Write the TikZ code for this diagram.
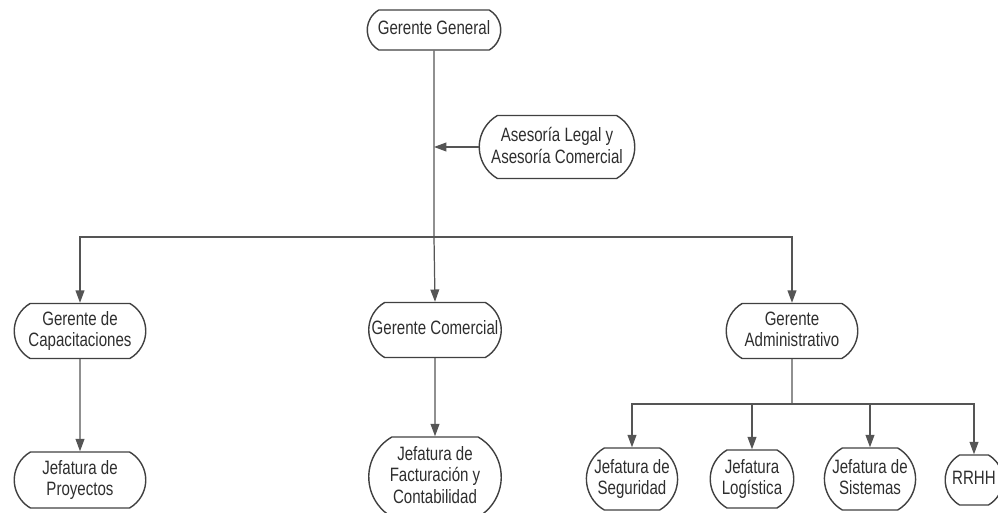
\documentclass[tikz,border=0pt]{standalone}
\usepackage{fontspec}
\setmainfont[FakeStretch=0.78]{Liberation Sans}
\usetikzlibrary{shapes.misc,arrows.meta}
\definecolor{txt}{HTML}{2E2E2E}
\definecolor{ln}{HTML}{555555}
\definecolor{bd}{HTML}{404040}

\def\foo{\vphantom{fy}}

\begin{document}
\begin{tikzpicture}[every text node part/.style={align=center},
  box/.style={draw=bd,line width=0.8pt,rounded rectangle,rounded rectangle arc length=120,
    inner sep=1pt,text=txt,font=\fontsize{11}{12.5}\selectfont},
  every path/.style={color=ln,line width=0.7pt},
  tip/.style={-{Triangle[width=5pt,length=7pt]}}]
  \useasboundingbox (0,0) rectangle (19.96,-10.26);
  \node[box,minimum width=2.74cm,minimum height=0.8cm] (0) at (8.68,-0.6) {Gerente General\foo};
  \node[box,minimum width=3.18cm,minimum height=1.26cm] (1) at (11.14,-2.94) {Asesoría Legal y\foo\\Asesoría Comercial\foo};
  \node[box,minimum width=2.7cm,minimum height=1.1cm] (2) at (1.6,-6.62) {Gerente de\foo\\Capacitaciones\foo};
  \node[box,minimum width=2.72cm,minimum height=1.1cm] (3) at (8.7,-6.6) {Gerente Comercial\foo};
  \node[box,minimum width=2.7cm,minimum height=1.1cm] (4) at (15.84,-6.62) {Gerente\foo\\Administrativo\foo};
  \node[box,minimum width=2.7cm,minimum height=1.12cm] (5) at (1.6,-9.6) {Jefatura de\foo\\Proyectos\foo};
  \node[box,minimum width=2.72cm,minimum height=1.6cm] (6) at (8.7,-9.54) {Jefatura de\foo\\Facturación y\foo\\Contabilidad\foo};
  \node[box,minimum width=1.74cm,minimum height=1.24cm] (7) at (12.64,-9.58) {Jefatura de\foo\\Seguridad\foo};
  \node[box,minimum width=1.74cm,minimum height=1.16cm] (8) at (15.04,-9.58) {Jefatura\foo\\Logística\foo};
  \node[box,minimum width=1.7cm,minimum height=1.24cm] (9) at (17.4,-9.58) {Jefatura de\foo\\Sistemas\foo};
  \node[box,minimum width=1.2cm,minimum height=1.0cm] (10) at (19.48,-9.6) {RRHH\foo};

  \coordinate (a) at (8.68,-4.74);
  \coordinate (b) at (15.84,-8.08);

  \draw (0) -- (a);
  \draw[tip] (1.west) -- (1.west -| a);
  \draw[tip] (a) -| (2.north);
  \draw[tip] (a) -- (3.north);
  \draw[tip] (a) -| (4.north);
  \draw[tip] (2) -- (5);
  \draw[tip] (3) -- (6);
  \draw (4) -- (b);
  \draw[tip] (b) -| (7.north);
  \draw[tip] (b) -| (8.north);
  \draw[tip] (b) -| (9.north);
  \draw[tip] (b) -| (10.north);
\end{tikzpicture}
\end{document}
